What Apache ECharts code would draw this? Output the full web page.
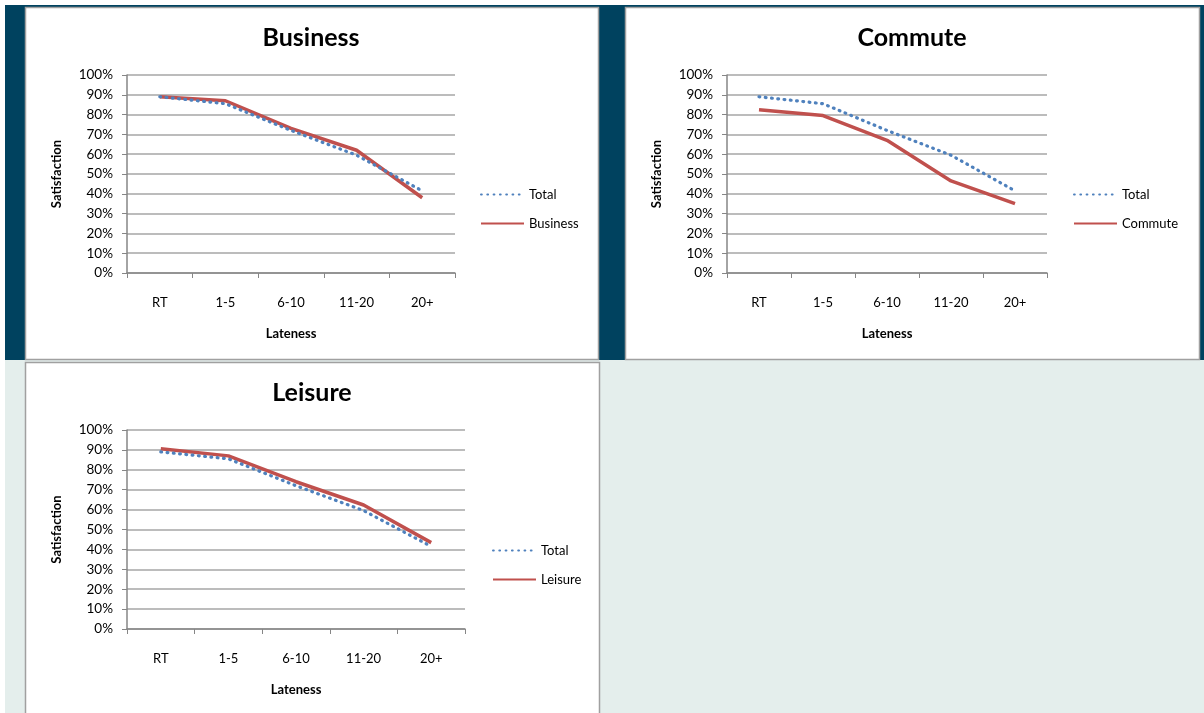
<!DOCTYPE html>
<html><head><meta charset="utf-8">
<script src="https://cdn.jsdelivr.net/npm/echarts@6/dist/echarts.min.js"></script>
<style>html,body{margin:0;padding:0;background:#fff}#c{width:1204px;height:713px}</style>
</head><body><div id="c"></div>
<script>
const categories = ['RT','1-5','6-10','11-20','20+'];
const total    = [0.89, 0.855, 0.72, 0.595, 0.415];
const business = [0.89, 0.87, 0.73, 0.62, 0.38];
const commute  = [0.825, 0.795, 0.67, 0.465, 0.35];
const leisure  = [0.906, 0.87, 0.74, 0.623, 0.434];
const panelTitles = ['Business','Commute','Leisure'];
const segmentSeries = [business, commute, leisure];
const yAxisName = 'Satisfaction';
const xAxisName = 'Lateness';

const FONT = 'Lato, "Open Sans", sans-serif';
const gridBoxes = [
  {left:127, top:75, width:328, height:198},
  {left:727, top:75, width:320, height:198},
  {left:127, top:430, width:338, height:199}
];
const titlePos = [[311,38],[912,38],[312,393]];
const legendPos = [[475,183],[1068,183],[487,539]];
const gridColor = '#a6a6a6';
const axisColor = '#868686';

const chart = echarts.init(document.getElementById('c'), null, {renderer:'canvas'});
const grid=[], xAxis=[], yAxis=[], series=[], legend=[], graphic=[];

graphic.push({type:'rect', shape:{x:5,y:5,width:1199,height:355}, style:{fill:'#00425f'}, silent:true, z:-10});
graphic.push({type:'rect', shape:{x:5,y:360,width:1199,height:353}, style:{fill:'#e4eeec'}, silent:true, z:-10});
const panels = [[25.5,7.5,573,352],[625.5,7.5,574,352],[25.5,362.5,574,355]];
panels.forEach(p=>graphic.push({type:'rect', shape:{x:p[0],y:p[1],width:p[2],height:p[3]}, style:{fill:'#fff',stroke:'#a0a0a0',lineWidth:1.5}, silent:true, z:-9}));

for (let i=0;i<3;i++){
  grid.push(Object.assign({containLabel:false}, gridBoxes[i]));
  xAxis.push({type:'category', gridIndex:i, data:categories, boundaryGap:true,
    axisLine:{lineStyle:{color:axisColor,width:1.5}},
    axisTick:{show:true,length:5,alignWithLabel:false,lineStyle:{color:axisColor}},
    axisLabel:{color:'#000',fontSize:13,fontFamily:FONT,margin:23},
    name:xAxisName, nameLocation:'middle', nameGap:54,
    nameTextStyle:{color:'#000',fontSize:13,fontWeight:'bold',fontFamily:FONT}});
  yAxis.push({type:'value', gridIndex:i, min:0, max:1, interval:0.1,
    axisLine:{show:true,lineStyle:{color:axisColor,width:1.5}},
    axisTick:{show:true,length:5,lineStyle:{color:axisColor}},
    splitLine:{lineStyle:{color:gridColor,width:1.5}},
    axisLabel:{color:'#000',fontSize:13.5,fontFamily:FONT,margin:14,formatter:v=>Math.round(v*100)+'%'},
    name:yAxisName, nameLocation:'middle', nameGap:64, nameRotate:90,
    nameTextStyle:{color:'#000',fontSize:13,fontWeight:'bold',fontFamily:FONT}});
  series.push({name:'Total', type:'line', xAxisIndex:i, yAxisIndex:i, data:total, symbol:'none', z:3,
    lineStyle:{color:'#4f81bd', width:3.2, type:[0.8,5.5], cap:'round'}, itemStyle:{color:'#4f81bd'}});
  series.push({name:panelTitles[i], type:'line', xAxisIndex:i, yAxisIndex:i, data:segmentSeries[i], symbol:'none', z:2,
    lineStyle:{color:'#c0504d', width:3.5}, itemStyle:{color:'#c0504d'}});
  legend.push({orient:'vertical', left:legendPos[i][0], top:legendPos[i][1], itemWidth:43, itemHeight:12, itemGap:16,
    itemStyle:{opacity:0},
    data:['Total', panelTitles[i]], textStyle:{color:'#000',fontSize:13,fontFamily:FONT,padding:[0,0,0,0]}, selectedMode:false});
  graphic.push({type:'text', x:titlePos[i][0], y:titlePos[i][1], silent:true,
    style:{text:panelTitles[i], fill:'#000', font:'bold 25px '+FONT, textAlign:'center', textVerticalAlign:'middle'}});
}

chart.setOption({animation:false, backgroundColor:'#fff', grid, xAxis, yAxis, series, legend, graphic});
</script></body></html>
